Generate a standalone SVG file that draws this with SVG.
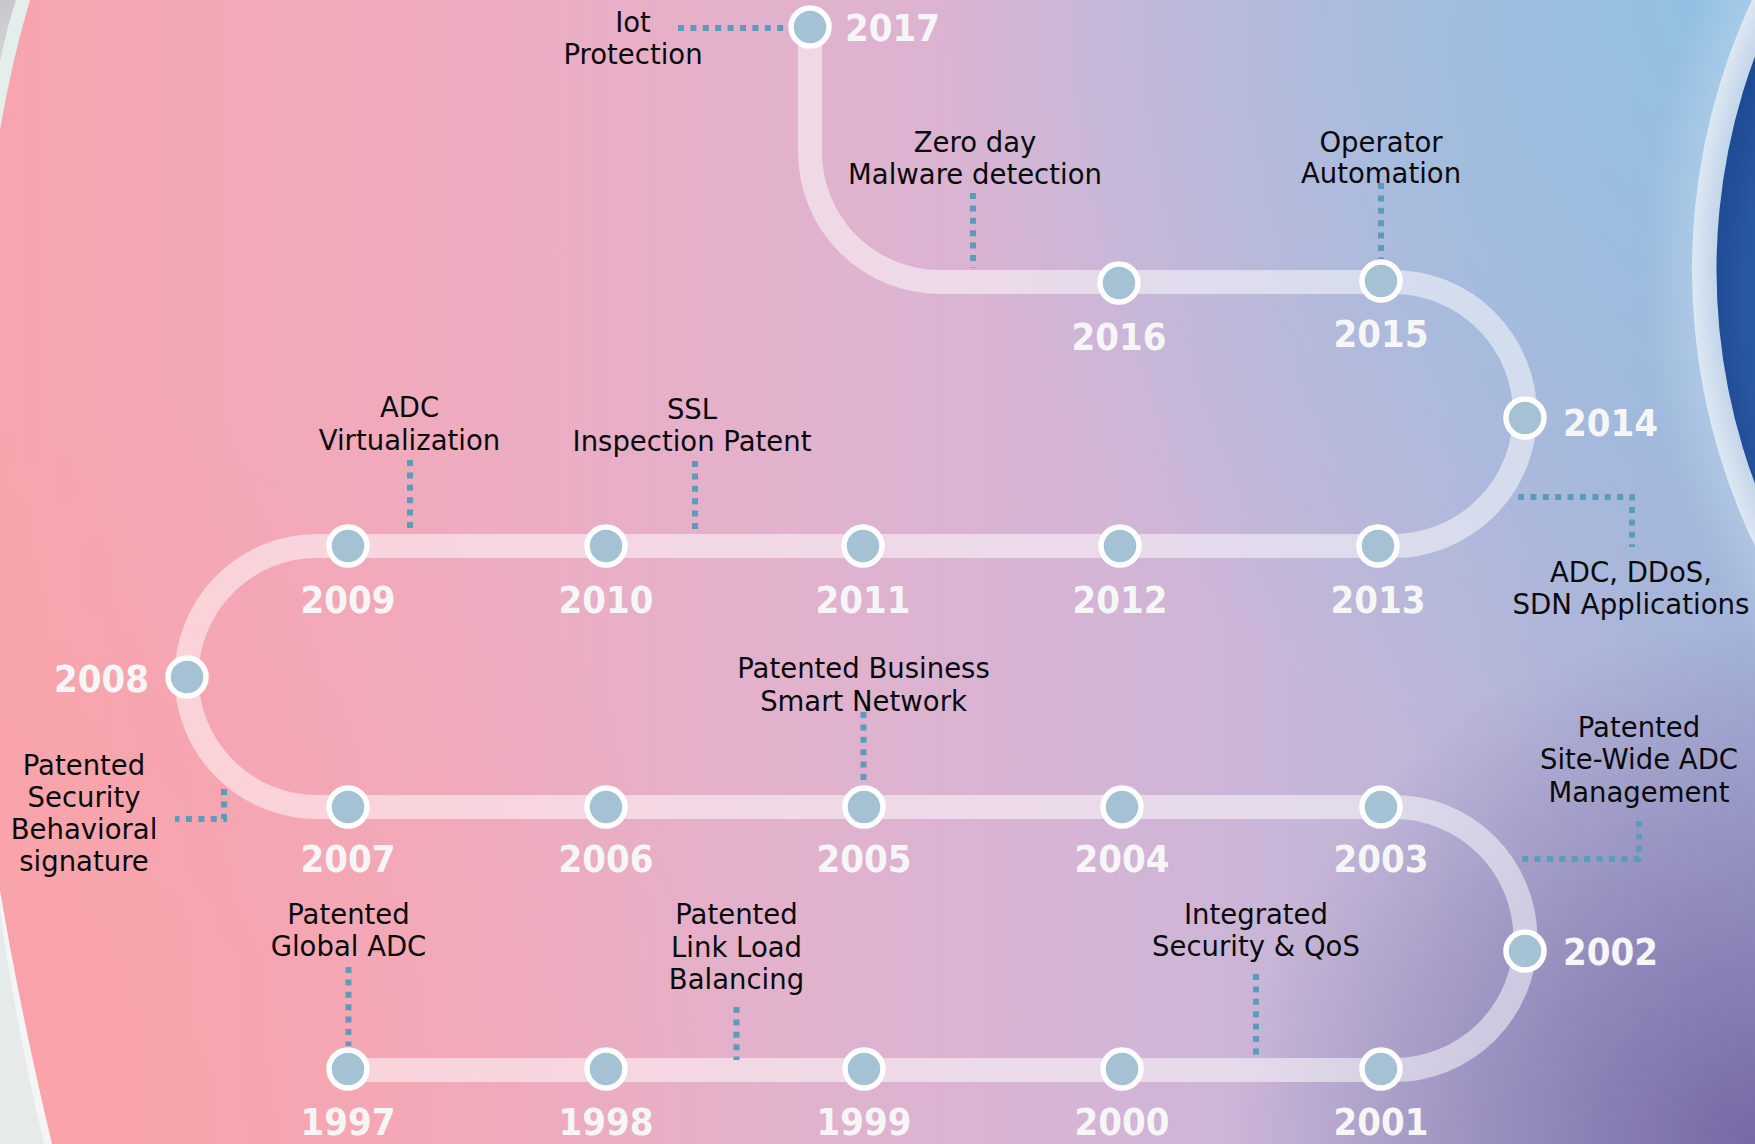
<svg xmlns="http://www.w3.org/2000/svg" width="1755" height="1144" viewBox="0 0 1755 1144">
<defs>
<linearGradient id="bgBase" x1="0" y1="0" x2="1755" y2="0" gradientUnits="userSpaceOnUse">
<stop offset="0" stop-color="#f7a5ae"/>
<stop offset="0.25" stop-color="#efabbe"/>
<stop offset="0.45" stop-color="#e2b2cd"/>
<stop offset="0.65" stop-color="#d2b5d6"/>
<stop offset="0.82" stop-color="#bdb6d8"/>
<stop offset="1" stop-color="#a8b0d6"/>
</linearGradient>
<radialGradient id="bgBlue" cx="1755" cy="0" r="820" gradientUnits="userSpaceOnUse">
<stop offset="0" stop-color="#8fc2e3" stop-opacity="0.95"/>
<stop offset="1" stop-color="#8fc2e3" stop-opacity="0"/>
</radialGradient>
<radialGradient id="bgPurple" cx="1755" cy="1144" r="520" gradientUnits="userSpaceOnUse">
<stop offset="0" stop-color="#7565a2" stop-opacity="0.95"/>
<stop offset="1" stop-color="#7565a2" stop-opacity="0"/>
</radialGradient>
<radialGradient id="bgPink" cx="0" cy="1144" r="760" gradientUnits="userSpaceOnUse">
<stop offset="0" stop-color="#fda0a4" stop-opacity="0.6"/>
<stop offset="1" stop-color="#fda0a4" stop-opacity="0"/>
</radialGradient>
<radialGradient id="glow" cx="2329.5" cy="270" r="690" gradientUnits="userSpaceOnUse">
<stop offset="0.9" stop-color="#c6dcef" stop-opacity="0.5"/>
<stop offset="1" stop-color="#c6dcef" stop-opacity="0"/>
</radialGradient>
<radialGradient id="ring" cx="2329.5" cy="270" r="638" gradientUnits="userSpaceOnUse">
<stop offset="0.95" stop-color="#bcd0e8"/>
<stop offset="1" stop-color="#dde8f3"/>
</radialGradient>
<radialGradient id="sphere" cx="2280" cy="300" r="615" gradientUnits="userSpaceOnUse">
<stop offset="0" stop-color="#3b6db5"/>
<stop offset="0.85" stop-color="#2b5aa3"/>
<stop offset="0.95" stop-color="#1c4690"/>
<stop offset="1" stop-color="#4f7fc0"/>
</radialGradient>
<linearGradient id="greyTop" x1="0" y1="0" x2="0" y2="130" gradientUnits="userSpaceOnUse">
<stop offset="0" stop-color="#c9c7cc"/>
<stop offset="1" stop-color="#dfe3e3"/>
</linearGradient>
<style>
.track{fill:none;stroke:#ffffff;stroke-opacity:0.5;stroke-width:24}
.dot{fill:none;stroke:#5e9bba;stroke-width:6;stroke-dasharray:6 6.4}
.node{fill:#a4c2d4;stroke:#ffffff;stroke-width:5.5}
.yr{font-family:"DejaVu Sans","Verdana",sans-serif;font-weight:bold;font-size:37px;fill:#f6f6f6}
.mid{text-anchor:middle}
.lbl{font-family:"DejaVu Sans","Verdana",sans-serif;font-size:27.5px;fill:#0a0a0a;text-anchor:middle}
</style>
</defs>

<g id="background">
<rect width="1755" height="1144" fill="url(#bgBase)"/>
<rect width="1755" height="1144" fill="url(#bgPink)"/>
<rect width="1755" height="1144" fill="url(#bgBlue)"/>
<rect width="1755" height="1144" fill="url(#bgPurple)"/>
<circle cx="2329.5" cy="270" r="690" fill="url(#glow)"/>
<circle cx="2329.5" cy="270" r="637.5" fill="url(#ring)"/>
<circle cx="2329.5" cy="270" r="613" fill="url(#sphere)"/>
<path d="M0 0 H30 Q12 60 0 130 Z" fill="#e4efeb"/>
<path d="M0 0 H16 Q6 30 0 62 Z" fill="url(#greyTop)"/>
<path d="M0 890 Q20 1010 52 1144 H0 Z" fill="#f3f6f5"/>
<path d="M0 910 Q14 1015 44 1144 H0 Z" fill="#e6eaea"/>
</g>

<g id="connectors">
<path class="track" d="M810 27 V152 A130 130 0 0 0 940 282 H1393 A132 132 0 0 1 1393 546 H317 A130.5 130.5 0 0 0 317 807 H1394 A131.5 131.5 0 0 1 1394 1070 H348"/>
<path class="dot" d="M678 28 H789"/>
<path class="dot" d="M973 193 V268"/>
<path class="dot" d="M1381 183 V259"/>
<path class="dot" d="M410 460 V534"/>
<path class="dot" d="M695 461 V534"/>
<path class="dot" d="M1518 497 H1632 V547"/>
<path class="dot" d="M863.5 712 V785"/>
<path class="dot" d="M1639 821 V859 H1519"/>
<path class="dot" d="M224 789 V819 H175"/>
<path class="dot" d="M348.5 967 V1046"/>
<path class="dot" d="M736.5 1007 V1060"/>
<path class="dot" d="M1256 974 V1059"/>
</g>

<g id="y2017"><circle class="node" cx="810" cy="27" r="19"/><text class="yr" x="845" y="41" textLength="95" lengthAdjust="spacingAndGlyphs">2017</text></g>
<g id="y2016"><circle class="node" cx="1119" cy="283" r="19"/><text class="yr mid" x="1119" y="350" textLength="95" lengthAdjust="spacingAndGlyphs">2016</text></g>
<g id="y2015"><circle class="node" cx="1381" cy="281" r="19"/><text class="yr mid" x="1381" y="347" textLength="95" lengthAdjust="spacingAndGlyphs">2015</text></g>
<g id="y2014"><circle class="node" cx="1525" cy="418" r="19"/><text class="yr" x="1563" y="436" textLength="95" lengthAdjust="spacingAndGlyphs">2014</text></g>
<g id="y2013"><circle class="node" cx="1378" cy="546" r="19"/><text class="yr mid" x="1378" y="613" textLength="95" lengthAdjust="spacingAndGlyphs">2013</text></g>
<g id="y2012"><circle class="node" cx="1120" cy="546" r="19"/><text class="yr mid" x="1120" y="613" textLength="95" lengthAdjust="spacingAndGlyphs">2012</text></g>
<g id="y2011"><circle class="node" cx="863" cy="546" r="19"/><text class="yr mid" x="863" y="613" textLength="95" lengthAdjust="spacingAndGlyphs">2011</text></g>
<g id="y2010"><circle class="node" cx="606" cy="546" r="19"/><text class="yr mid" x="606" y="613" textLength="95" lengthAdjust="spacingAndGlyphs">2010</text></g>
<g id="y2009"><circle class="node" cx="348" cy="546" r="19"/><text class="yr mid" x="348" y="613" textLength="95" lengthAdjust="spacingAndGlyphs">2009</text></g>
<g id="y2008"><circle class="node" cx="187" cy="677" r="19"/><text class="yr" x="54" y="692" textLength="95" lengthAdjust="spacingAndGlyphs">2008</text></g>
<g id="y2007"><circle class="node" cx="348" cy="807" r="19"/><text class="yr mid" x="348" y="872" textLength="95" lengthAdjust="spacingAndGlyphs">2007</text></g>
<g id="y2006"><circle class="node" cx="606" cy="807" r="19"/><text class="yr mid" x="606" y="872" textLength="95" lengthAdjust="spacingAndGlyphs">2006</text></g>
<g id="y2005"><circle class="node" cx="864" cy="807" r="19"/><text class="yr mid" x="864" y="872" textLength="95" lengthAdjust="spacingAndGlyphs">2005</text></g>
<g id="y2004"><circle class="node" cx="1122" cy="807" r="19"/><text class="yr mid" x="1122" y="872" textLength="95" lengthAdjust="spacingAndGlyphs">2004</text></g>
<g id="y2003"><circle class="node" cx="1381" cy="807" r="19"/><text class="yr mid" x="1381" y="872" textLength="95" lengthAdjust="spacingAndGlyphs">2003</text></g>
<g id="y2002"><circle class="node" cx="1525" cy="951" r="19"/><text class="yr" x="1563" y="965" textLength="95" lengthAdjust="spacingAndGlyphs">2002</text></g>
<g id="y2001"><circle class="node" cx="1381" cy="1069" r="19"/><text class="yr mid" x="1381" y="1135" textLength="95" lengthAdjust="spacingAndGlyphs">2001</text></g>
<g id="y2000"><circle class="node" cx="1122" cy="1069" r="19"/><text class="yr mid" x="1122" y="1135" textLength="95" lengthAdjust="spacingAndGlyphs">2000</text></g>
<g id="y1999"><circle class="node" cx="864" cy="1069" r="19"/><text class="yr mid" x="864" y="1135" textLength="95" lengthAdjust="spacingAndGlyphs">1999</text></g>
<g id="y1998"><circle class="node" cx="606" cy="1069" r="19"/><text class="yr mid" x="606" y="1135" textLength="95" lengthAdjust="spacingAndGlyphs">1998</text></g>
<g id="y1997"><circle class="node" cx="348" cy="1069" r="19"/><text class="yr mid" x="348" y="1135" textLength="95" lengthAdjust="spacingAndGlyphs">1997</text></g>

<g id="label-iot"><text class="lbl" x="633" y="32">Iot</text><text class="lbl" x="633" y="64">Protection</text></g>
<g id="label-zeroday"><text class="lbl" x="975" y="152">Zero day</text><text class="lbl" x="975" y="183.5">Malware detection</text></g>
<g id="label-operator"><text class="lbl" x="1381" y="152">Operator</text><text class="lbl" x="1381" y="183">Automation</text></g>
<g id="label-adcvirt"><text class="lbl" x="409.5" y="417">ADC</text><text class="lbl" x="409.5" y="450">Virtualization</text></g>
<g id="label-ssl"><text class="lbl" x="692" y="419">SSL</text><text class="lbl" x="692" y="451">Inspection Patent</text></g>
<g id="label-adcddos"><text class="lbl" x="1631" y="582">ADC, DDoS,</text><text class="lbl" x="1631" y="613.5" textLength="237" lengthAdjust="spacingAndGlyphs">SDN Applications</text></g>
<g id="label-business"><text class="lbl" x="863.5" y="678">Patented Business</text><text class="lbl" x="863.5" y="711">Smart Network</text></g>
<g id="label-sitewide"><text class="lbl" x="1639" y="737">Patented</text><text class="lbl" x="1639" y="769">Site-Wide ADC</text><text class="lbl" x="1639" y="801.5">Management</text></g>
<g id="label-security"><text class="lbl" x="84" y="775">Patented</text><text class="lbl" x="84" y="807">Security</text><text class="lbl" x="84" y="839">Behavioral</text><text class="lbl" x="84" y="871">signature</text></g>
<g id="label-globaladc"><text class="lbl" x="348.5" y="924">Patented</text><text class="lbl" x="348.5" y="956">Global ADC</text></g>
<g id="label-linkload"><text class="lbl" x="736.5" y="924">Patented</text><text class="lbl" x="736.5" y="956.5">Link Load</text><text class="lbl" x="736.5" y="988.5">Balancing</text></g>
<g id="label-integrated"><text class="lbl" x="1256" y="924">Integrated</text><text class="lbl" x="1256" y="956">Security &amp; QoS</text></g>
</svg>
